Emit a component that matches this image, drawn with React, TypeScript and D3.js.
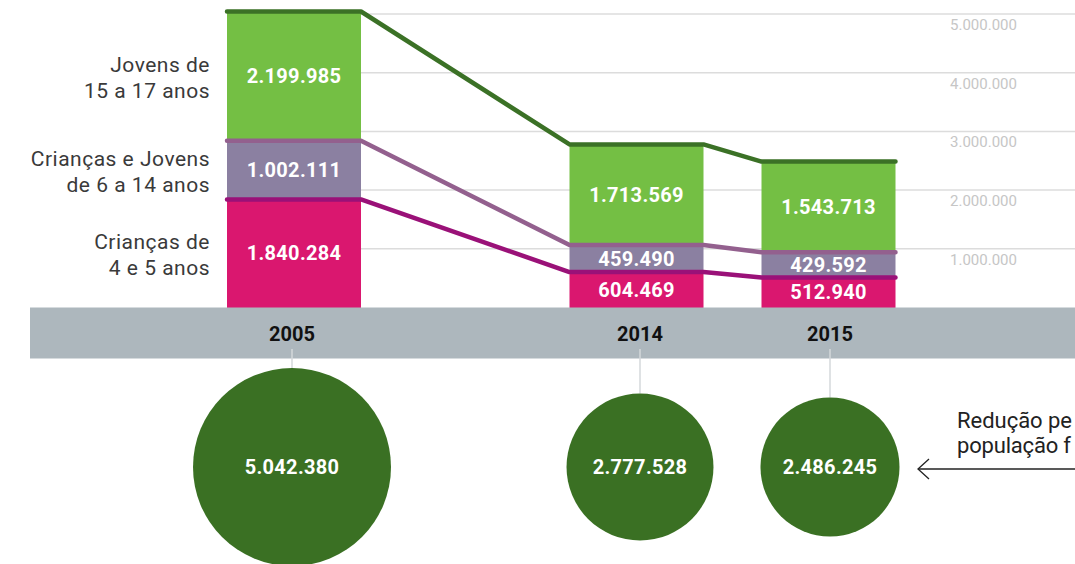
import React from "react";
import * as d3 from "d3";

const years = ["2005", "2014", "2015"];
const criancas4a5 = [1840284, 604469, 512940];
const criancas6a14 = [1002111, 459490, 429592];
const jovens15a17 = [2199985, 1713569, 1543713];
const totals = [5042380, 2777528, 2486245];
const yTicks = [1000000, 2000000, 3000000, 4000000, 5000000];
const seriesNames = ["Crianças de 4 e 5 anos", "Crianças e Jovens de 6 a 14 anos", "Jovens de 15 a 17 anos"];
const seriesLabelLines = [["Crianças de", "4 e 5 anos"], ["Crianças e Jovens", "de 6 a 14 anos"], ["Jovens de", "15 a 17 anos"]];
const noteLines = ["Redução pe", "população f"];

const W = 1075;
const H = 564;
const barColors = ["#da176f", "#8b80a1", "#74bf44"];
const lineColors = ["#9a1178", "#93608e", "#3b7126"];
const FONT = "Roboto, 'DejaVu Sans', sans-serif";

const locale = d3.formatLocale({ decimal: ",", thousands: ".", grouping: [3], currency: ["R$", ""] });
const fmt = locale.format(",");

export default function App() {
  const y = d3.scaleLinear().domain([0, 5000000]).range([307.5, 14]);
  const xBar = d3.scaleOrdinal<string, number>().domain(years).range([294, 636.5, 828.5]);
  const xLow = d3.scaleOrdinal<string, number>().domain(years).range([292, 640, 830]);
  const barW = 134;
  const r = d3.scaleSqrt().domain([0, 5042380]).range([0, 99]);

  const table = years.map((yr, i) => ({ year: yr, s0: criancas4a5[i], s1: criancas6a14[i], s2: jovens15a17[i] }));
  const stack = d3.stack<any>().keys(["s0", "s1", "s2"]);
  const stacked = stack(table);

  const lineGen = d3.line<[number, number]>().x((d) => d[0]).y((d) => d[1]);

  return (
    <svg width={W} height={H} style={{ position: "absolute", left: 0, top: 0, background: "#fff" }} fontFamily={FONT}>
      {/* gridlines */}
      {yTicks.map((t) => (
        <g key={t}>
          <line x1={227} x2={W} y1={y(t)} y2={y(t)} stroke="#dcdcdc" strokeWidth={1.5} />
          <text x={950} y={y(t) + 16} fontSize={15} fill="#c6c6c6">{fmt(t)}</text>
        </g>
      ))}
      {/* bars */}
      {stacked.map((layer, si) => (
        <g key={si}>
          {layer.map((d, i) => {
            const x0 = xBar(years[i]) - barW / 2;
            const yT = y(d[1]);
            const yB = y(d[0]) + (si === 0 ? 2 : 0);
            return <rect key={i} x={x0} y={yT} width={barW} height={yB - yT} fill={barColors[si]} />;
          })}
        </g>
      ))}
      {/* connecting lines */}
      {stacked.map((layer, si) => {
        const pts: [number, number][] = [];
        layer.forEach((d, i) => {
          const c = xBar(years[i]);
          pts.push([c - barW / 2, y(d[1])]);
          pts.push([c + barW / 2, y(d[1])]);
        });
        return (
          <path key={si} d={lineGen(pts) || ""} fill="none" stroke={lineColors[si]} strokeWidth={4.5} strokeLinecap="round" strokeLinejoin="round" />
        );
      })}
      {/* value labels */}
      {stacked.map((layer, si) => (
        <g key={si}>
          {layer.map((d, i) => (
            <text key={i} x={xBar(years[i])} y={(y(d[0]) + y(d[1])) / 2 + 7} textAnchor="middle" fontSize={20} fontWeight="bold" fill="#fff" letterSpacing={0.3}>
              {fmt(d[1] - d[0])}
            </text>
          ))}
        </g>
      ))}
      {/* series labels */}
      {stacked.map((layer, si) => {
        const mid = (y(layer[0][0]) + y(layer[0][1])) / 2;
        return (
          <text key={si} x={210} textAnchor="end" fontSize={21} fill="#3a3a3a" letterSpacing={0.5} aria-label={seriesNames[si]}>
            <tspan x={210} y={mid - 4}>{seriesLabelLines[si][0]}</tspan>
            <tspan x={210} y={mid + 22}>{seriesLabelLines[si][1]}</tspan>
          </text>
        );
      })}
      {/* axis band */}
      <rect x={30} y={307.5} width={W - 30} height={51} fill="#adb7bd" />
      {years.map((yr) => (
        <text key={yr} x={xLow(yr)} y={341} textAnchor="middle" fontSize={20} fontWeight="bold" fill="#111">{yr}</text>
      ))}
      {/* circles */}
      {years.map((yr, i) => (
        <g key={yr}>
          <line x1={xLow(yr)} x2={xLow(yr)} y1={349} y2={467 - r(totals[i])} stroke="#d4d8db" strokeWidth={1.5} />
          <circle cx={xLow(yr)} cy={467} r={r(totals[i])} fill="#3a7023" />
          <text x={xLow(yr)} y={474} textAnchor="middle" fontSize={20} fontWeight="bold" fill="#fff" letterSpacing={0.3}>{fmt(totals[i])}</text>
        </g>
      ))}
      {/* note */}
      <text x={957} y={428} fontSize={22} fill="#222" textLength={115} lengthAdjust="spacing">{noteLines[0]}</text>
      <text x={957} y={453} fontSize={22} fill="#222" textLength={114} lengthAdjust="spacing">{noteLines[1]}</text>
      <line x1={918} x2={W} y1={469} y2={469} stroke="#222" strokeWidth={1.3} />
      <path d="M929,459 L918,469 L929,479" fill="none" stroke="#222" strokeWidth={1.3} />
    </svg>
  );
}
